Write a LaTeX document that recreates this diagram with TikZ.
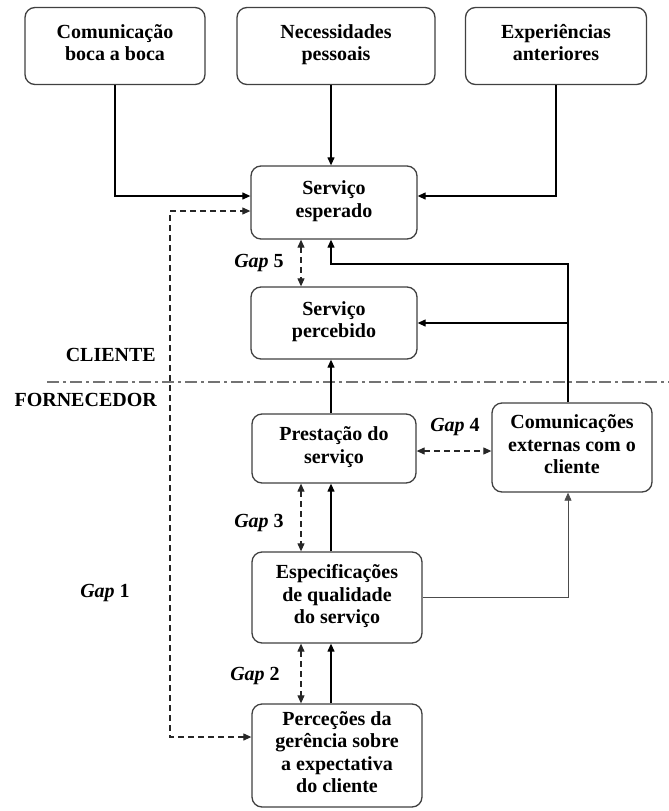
\documentclass[tikz,border=0pt]{standalone}
\usepackage{fontspec}
\setmainfont{Liberation Serif}
\usetikzlibrary{arrows.meta,calc}
\begin{document}
\begin{tikzpicture}[x=1pt,y=-1pt,
  box/.style={draw=black!75, line width=1.3pt, rounded corners=10pt, align=center,
    font=\fontsize{20}{22.5}\selectfont\bfseries, inner sep=0pt, fill=white},
  lbl/.style={font=\fontsize{20}{23}\selectfont\bfseries, inner sep=0pt},
  tip/.tip={Triangle[length=8pt,width=7pt]},
  arr/.style={-tip, line width=1.2pt, black},
  arrthin/.style={-tip, line width=0.8pt, black!70},
  gapd/.style={tip-tip, line width=1.1pt, dash pattern=on 6pt off 4pt, black!85},
  sepline/.style={line width=1.4pt, black!55, dash pattern=on 12pt off 4pt on 3pt off 4pt}]
\useasboundingbox (0,0) rectangle (669,811);
% nodes
\node[box, minimum width=180pt, minimum height=77pt] (boca) at (115,46) {Comunicação\\boca a boca\strut};
\node[box, minimum width=198pt, minimum height=77pt] (pess) at (336,46) {Necessidades\\pessoais\strut};
\node[box, minimum width=181pt, minimum height=77pt] (exp) at (556,46) {Experiências\\anteriores\strut};
\node[box, minimum width=166pt, minimum height=73pt] (esp) at (334,202.5) {Serviço\\esperado\strut};
\node[box, minimum width=166pt, minimum height=72pt] (perc) at (334,323) {Serviço\\percebido\strut};
\node[box, minimum width=164pt, minimum height=69pt] (prest) at (334,448.5) {Prestação do\\serviço\strut};
\node[box, minimum width=160pt, minimum height=89pt] (com) at (572,447.5) {Comunicações\\externas com o\\cliente\strut};
\node[box, minimum width=170pt, minimum height=91pt] (espec) at (337,597.5) {Especificações\\de qualidade\\do serviço\strut};
\node[box, minimum width=170pt, minimum height=103pt] (perg) at (337,755.5) {Perceções da\\gerência sobre\\a expectativa\\do cliente\strut};
% labels
\node[lbl, anchor=east] (cli) at (156,355) {CLIENTE};
\node[lbl, anchor=east] (forn) at (157,400) {FORNECEDOR};
\node[lbl] (g5) at (259,263) {\textit{Gap} 5};
\node[lbl] (g4) at (455,427) {\textit{Gap} 4};
\node[lbl] (g3) at (259,523) {\textit{Gap} 3};
\node[lbl] (g2) at (255,676) {\textit{Gap} 2};
\node[lbl] (g1) at (105,593) {\textit{Gap} 1};
% helper coordinates
\coordinate (yA) at (0,196);
\coordinate (yB) at (0,211);
\coordinate (yC) at (0,264);
\coordinate (yD) at (0,323);
\coordinate (yE) at (0,451);
\coordinate (yF) at (0,597);
\coordinate (yG) at (0,737);
\coordinate (xL) at (170,0);
\coordinate (xR) at (568,0);
\coordinate (xM) at (331,0);
\coordinate (xG) at (301,0);
\coordinate (dl) at (47,382);
\coordinate (dr) at (669,382);
% separator
\draw[sepline] (dl) -- (dr);
% connectors
\draw[arr] (boca.south) |- (esp.west |- yA);
\draw[arr] (pess.south -| xM) -- (esp.north -| xM);
\draw[arr] (exp.south) |- (esp.east |- yA);
\draw[gapd] (perg.west |- yG) -| (xL |- yB) -- (esp.west |- yB);
\draw[gapd] (esp.south -| xG) -- (perc.north -| xG);
\draw[arr] (com.north -| xR) |- (xM |- yC) -- (esp.south -| xM);
\draw[arr] (xR |- yD) -- (perc.east |- yD);
\draw[arr] (prest.north -| xM) -- (perc.south -| xM);
\draw[gapd] (prest.east |- yE) -- (com.west |- yE);
\draw[gapd] (prest.south -| xG) -- (espec.north -| xG);
\draw[arr] (espec.north -| xM) -- (prest.south -| xM);
\draw[arrthin] (espec.east |- yF) -| (com.south -| xR);
\draw[gapd] (espec.south -| xG) -- (perg.north -| xG);
\draw[arr] (perg.north -| xM) -- (espec.south -| xM);
\end{tikzpicture}
\end{document}
